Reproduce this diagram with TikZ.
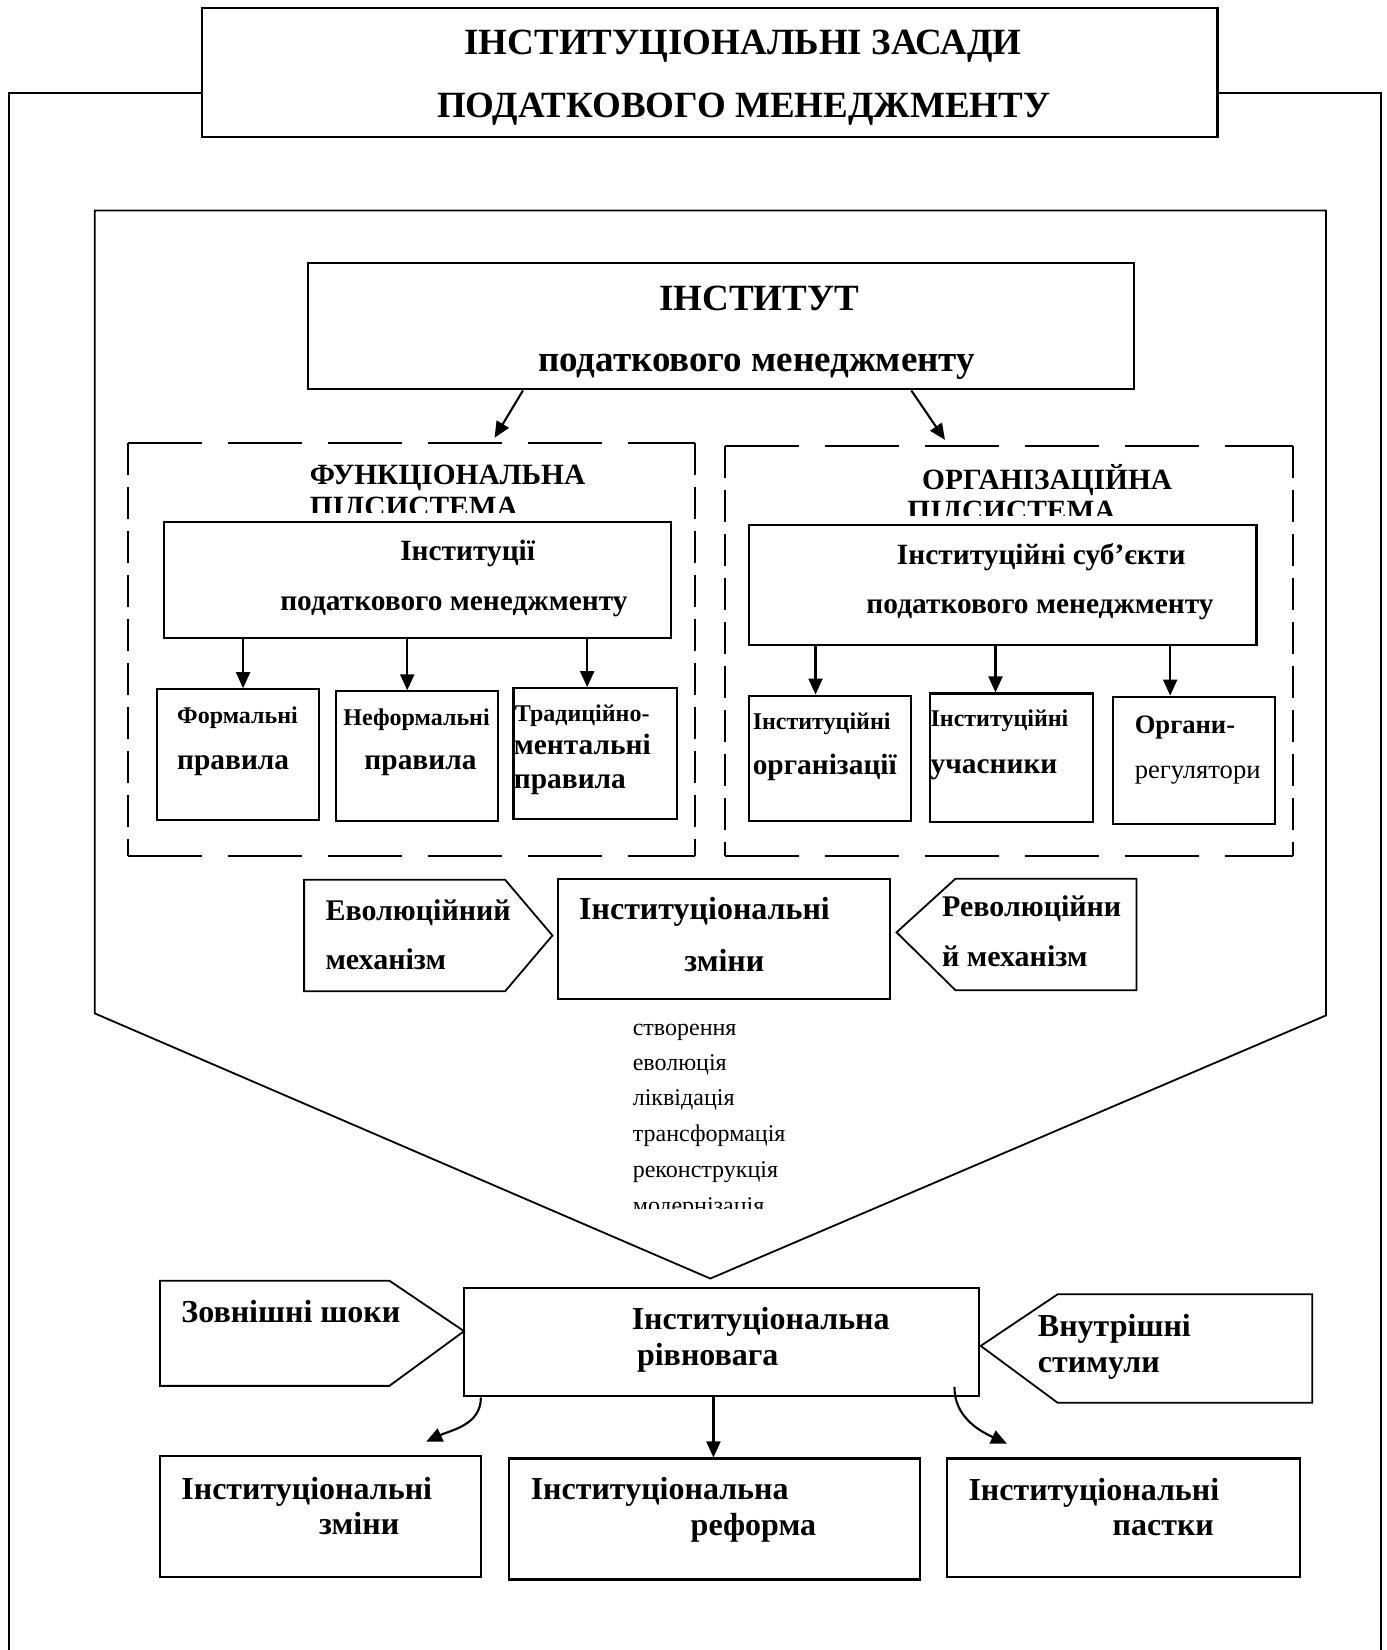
\documentclass[tikz,border=0pt]{standalone}
\usepackage{fontspec}
\setmainfont{Liberation Serif}
\usetikzlibrary{arrows.meta,fit}
\newcommand\fszA{\fontsize{18.5pt}{22pt}\selectfont\bfseries}
\newcommand\fszB{\fontsize{14.7pt}{18pt}\selectfont\bfseries}
\newcommand\fszC{\fontsize{12pt}{14pt}\selectfont\bfseries}
\newcommand\fszD{\fontsize{13.3pt}{16pt}\selectfont}
\newcommand\fszE{\fontsize{16pt}{19pt}\selectfont\bfseries}
\newcommand\fszM{\fontsize{15pt}{18pt}\selectfont\bfseries}
\newcommand\fszL{\fontsize{12pt}{14pt}\selectfont}
\begin{document}
\begin{tikzpicture}[x=0.5262pt,y=-0.5262pt,
  box/.style={draw,line width=1.05pt,inner sep=0pt},
  ghost/.style={inner sep=0pt},
  shp/.style={draw,line width=0.9pt,line join=miter},
  lbl/.style={anchor=base west,inner sep=0pt},
  arr/.style={-{Triangle[length=8pt,width=7pt]},line width=1.05pt},
  hdash/.style={line width=1pt,dash pattern=on 37pt off 13pt},
  vdash/.style={line width=1pt,dash pattern=on 16pt off 6pt}]
\useasboundingbox (0,0) rectangle (1318,1568);

% outer frame
\draw[line width=1pt] (9,1568) -- (9,88) -- (192,88);
\draw[line width=1pt] (1157,88) -- (1312,88) -- (1312,1568);

% title
\node[box,fit={(192,8) (1157,130)}] (title) {};
\node[lbl,font=\fszA] (tt1) at (441,52) {ІНСТИТУЦІОНАЛЬНІ ЗАСАДИ};
\node[lbl,font=\fszA] (tt2) at (415,112) {ПОДАТКОВОГО МЕНЕДЖМЕНТУ};

% big shield
\draw[shp] (90,200) -- (1260,200) -- (1260,965) -- (675,1215) -- (90,963) -- cycle;

% institute
\node[box,fit={(293,250) (1078,370)}] (inst) {};
\node[lbl,font=\fszA] (ti1) at (626,295) {ІНСТИТУТ};
\node[lbl,font=\fszA] (ti2) at (511,353) {податкового менеджменту};

% dashed subsystems
\node[ghost,fit={(122,421) (660,813)}] (ldash) {};
\node[ghost,fit={(689,424) (1228,813)}] (rdash) {};
\foreach \d in {ldash,rdash}{
  \draw[hdash] (\d.north west) -- (\d.north east);
  \draw[hdash] (\d.south west) -- (\d.south east);
  \draw[vdash] (\d.north west) -- (\d.south west);
  \draw[vdash] (\d.north east) -- (\d.south east);
}
\coordinate (la) at (470,416);
\coordinate (ra) at (898,418);
\draw[arr] (inst.south -| 497,0) -- (la);
\draw[arr] (inst.south -| 866,0) -- (ra);

\node[lbl,font=\fszB] (fs1) at (294,460) {ФУНКЦІОНАЛЬНА};
\begin{scope}
  \clip (122,430) rectangle (660,487);
  \node[lbl,font=\fszB] (fs2) at (294,491) {ПІДСИСТЕМА};
\end{scope}
\node[lbl,font=\fszB] (os1) at (876,465) {ОРГАНІЗАЦІЙНА};
\begin{scope}
  \clip (689,430) rectangle (1228,490);
  \node[lbl,font=\fszB] (os2) at (862,495) {ПІДСИСТЕМА};
\end{scope}

% left subsystem
\node[box,fit={(156,496) (638,606)}] (inA) {};
\node[lbl,font=\fszB] (tA1) at (380,533) {Інституції};
\node[lbl,font=\fszB] (tA2) at (266,580) {податкового менеджменту};
\node[box,fit={(149,655) (303,779)}] (f1) {};
\node[box,fit={(319,657) (473,780)}] (f2) {};
\node[box,fit={(488,654) (643,778)}] (f3) {};
\draw[arr] (inA.south -| 231,0) -- (f1.north -| 231,0);
\draw[arr] (inA.south -| 387,0) -- (f2.north -| 387,0);
\draw[arr] (inA.south -| 558,0) -- (f3.north -| 558,0);
\node[lbl,font=\fszC] (tf1a) at (168,688) {Формальні};
\node[lbl,font=\fszB] (tf1b) at (168,731) {правила};
\node[lbl,font=\fszC] (tf2a) at (326,689) {Неформальні};
\node[lbl,font=\fszB] (tf2b) at (346,731) {правила};
\node[lbl,font=\fszC] (tf3a) at (489,686) {Традиційно-};
\node[lbl,font=\fszB] (tf3b) at (488,717) {ментальні};
\node[lbl,font=\fszB] (tf3c) at (488,749) {правила};

% right subsystem
\node[box,fit={(712,499) (1194,613)}] (inB) {};
\node[lbl,font=\fszB] (tB1) at (852,536) {Інституційні суб’єкти};
\node[lbl,font=\fszB] (tB2) at (823,583) {податкового менеджменту};
\node[box,fit={(712,661) (866,780)}] (o1) {};
\node[box,fit={(884,659) (1039,781)}] (o2) {};
\node[box,fit={(1058,662) (1212,783)}] (o3) {};
\draw[arr] (inB.south -| 775,0) -- (o1.north -| 775,0);
\draw[arr] (inB.south -| 946,0) -- (o2.north -| 946,0);
\draw[arr] (inB.south -| 1112,0) -- (o3.north -| 1112,0);
\node[lbl,font=\fszC] (to1a) at (715,693) {Інституційні};
\node[lbl,font=\fszB] (to1b) at (715,736) {організації};
\node[lbl,font=\fszC] (to2a) at (884,690) {Інституційні};
\node[lbl,font=\fszB] (to2b) at (884,735) {учасники};
\node[lbl,font=\fszD\bfseries] (to3a) at (1078,697) {Органи-};
\node[lbl,font=\fszD] (to3b) at (1078,740) {регулятори};

% institutional changes row
\draw[shp] (289,836) -- (480,836) -- (525,889) -- (480,942) -- (289,942) -- cycle;
\draw[shp] (908,835) -- (1080,835) -- (1080,941) -- (908,941) -- (852,886) -- cycle;
\node[box,fit={(530,835) (846,949)}] (chg) {};
\node[lbl,font=\fszM] (te1) at (309,875) {Еволюційний};
\node[lbl,font=\fszM] (te2) at (309,921) {механізм};
\node[lbl,font=\fszE] (tc1) at (550,874) {Інституціональні};
\node[lbl,font=\fszE] (tc2) at (650,923) {зміни};
\node[lbl,font=\fszM] (tr1) at (895,871) {Революційни};
\node[lbl,font=\fszM] (tr2) at (895,918) {й механізм};

% list
\node[lbl,font=\fszL] (l1) at (601,984) {створення};
\node[lbl,font=\fszL] (l2) at (601,1017) {еволюція};
\node[lbl,font=\fszL] (l3) at (601,1051) {ліквідація};
\node[lbl,font=\fszL] (l4) at (601,1085) {трансформація};
\node[lbl,font=\fszL] (l5) at (601,1119) {реконструкція};
\begin{scope}
  \clip (590,1120) rectangle (800,1148);
  \node[lbl,font=\fszL] (l6) at (601,1153) {модернізація};
\end{scope}

% equilibrium row
\draw[shp] (152,1217) -- (370,1217) -- (441,1265) -- (370,1317) -- (152,1317) -- cycle;
\draw[shp] (1005,1230) -- (1247,1230) -- (1247,1333) -- (1005,1333) -- (932,1279) -- cycle;
\node[box,fit={(441,1224) (930,1327)}] (eq) {};
\node[lbl,font=\fszE] (tz) at (172,1257) {Зовнішні шоки};
\node[lbl,font=\fszE] (tq1) at (600,1263) {Інституціональна};
\node[lbl,font=\fszE] (tq2) at (605,1298) {рівновага};
\node[lbl,font=\fszE] (tv1) at (986,1270) {Внутрішні};
\node[lbl,font=\fszE] (tv2) at (986,1304) {стимули};

% outcomes
\node[box,fit={(152,1384) (457,1499)}] (b1) {};
\node[box,fit={(484,1386) (874,1501)}] (b2) {};
\node[box,fit={(900,1386) (1235,1499)}] (b3) {};
\coordinate (c1) at (405,1370);
\coordinate (c3) at (957,1372);
\draw[arr] (eq.south -| 457,0) to[out=-90,in=25] (c1);
\draw[arr] (eq.south -| 678,0) -- (b2.north -| 678,0);
\draw[arr] (907,1318) to[out=-90,in=155] (c3);
\node[lbl,font=\fszE] (tb1a) at (172,1425) {Інституціональні};
\node[lbl,font=\fszE] (tb1b) at (303,1458) {зміни};
\node[lbl,font=\fszE] (tb2a) at (504,1425) {Інституціональна};
\node[lbl,font=\fszE] (tb2b) at (656,1459) {реформа};
\node[lbl,font=\fszE] (tb3a) at (920,1426) {Інституціональні};
\node[lbl,font=\fszE] (tb3b) at (1057,1459) {пастки};
\end{tikzpicture}
\end{document}
